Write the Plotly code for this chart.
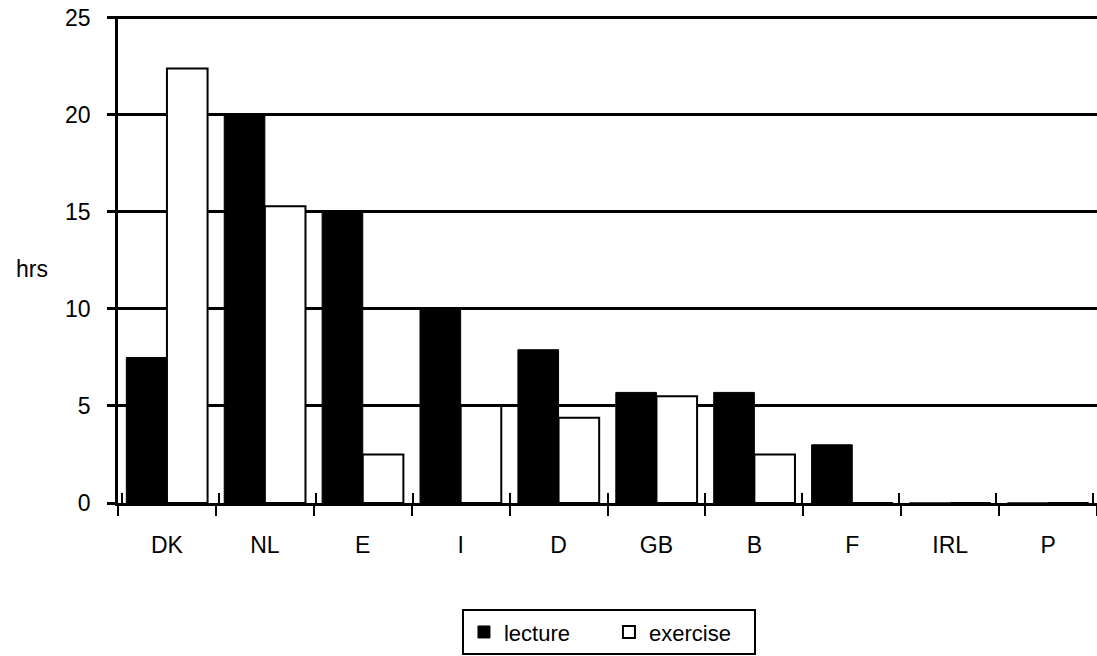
import plotly.graph_objects as go

countries = ["DK", "NL", "E", "I", "D", "GB", "B", "F", "IRL", "P"]
lecture = [7.5, 20, 15, 10, 7.9, 5.7, 5.7, 3.0, 0, 0]
exercise = [22.4, 15.3, 2.5, 5, 4.4, 5.5, 2.5, 0, 0, 0]
y_ticks = [0, 5, 10, 15, 20, 25]

font = dict(family="Liberation Sans, Arial, sans-serif", size=23, color="black")

fig = go.Figure()
fig.add_trace(go.Bar(
    x=countries, y=lecture, name="lecture",
    marker=dict(color="black", line=dict(color="black", width=1))
))
fig.add_trace(go.Bar(
    x=countries, y=exercise, name="exercise",
    marker=dict(color="white", line=dict(color="black", width=2))
))
# invisible helper trace so the second x axis can draw the inward half of the ticks
fig.add_trace(go.Scatter(
    x=countries, y=[0] * len(countries), xaxis="x2", mode="markers",
    marker=dict(opacity=0), showlegend=False, hoverinfo="skip"
))

fig.update_layout(
    width=1097, height=656,
    margin=dict(l=118, r=0, t=16, b=153, autoexpand=False),
    paper_bgcolor="white", plot_bgcolor="white",
    font=font,
    barmode="group", bargap=0.17, bargroupgap=0,
    xaxis=dict(
        type="category", tickson="boundaries", automargin=False,
        ticks="outside", ticklen=10, tickwidth=2, tickcolor="black",
        showline=True, linecolor="black", linewidth=2.5,
        showgrid=False, ticklabelstandoff=20,
    ),
    xaxis2=dict(
        type="category", overlaying="x", anchor="y", side="bottom", automargin=False,
        tickson="boundaries", ticks="inside", ticklen=10, tickwidth=2, tickcolor="black",
        showticklabels=False, showline=False, showgrid=False,
    ),
    yaxis=dict(
        # a little above 25: plotly drops gridlines within 1px of the plot edge
        range=[0, 25.1], tickvals=y_ticks, automargin=False,
        ticks="outside", ticklen=8, tickwidth=2.5, tickcolor="black",
        showline=True, linecolor="black", linewidth=2.5,
        showgrid=True, gridcolor="black", gridwidth=2.5, zeroline=False,
        ticklabelstandoff=12, ticklabeloverflow="allow",
    ),
    legend=dict(
        orientation="h", x=0.5015, xanchor="center", y=-0.218, yanchor="top",
        bordercolor="black", borderwidth=2, bgcolor="white",
        font=dict(family=font["family"], size=22, color="black"),
        itemwidth=30, entrywidth=100,
    ),
    annotations=[dict(
        text="hrs", xref="paper", yref="paper", x=-0.069, y=0.48,
        xanchor="right", yanchor="middle", showarrow=False, font=font,
    )],
)

# drop the default 8px body margin so the figure sits at the window's corner
fig.write_html("out.html", config={"displayModeBar": False},
               post_script="document.body.style.margin='0';")
